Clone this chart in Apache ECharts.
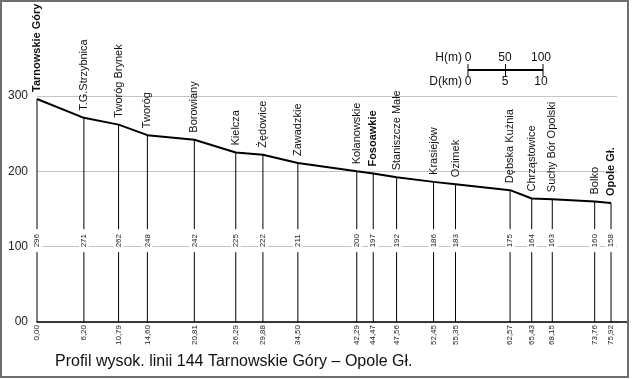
<!DOCTYPE html>
<html>
<head>
<meta charset="utf-8">
<script src="https://cdn.jsdelivr.net/npm/echarts@6/dist/echarts.min.js"></script>
<style>
html,body{margin:0;padding:0;background:#fff;}
#chart{width:632px;height:379px;}
</style>
</head>
<body>
<div id="chart"></div>
<script>
var stations = ['Tarnowskie Góry','T.G.Strzybnica','Tworóg Brynek','Tworóg','Borowiany','Kielcza','Żędowice','Zawadzkie','Kolanowskie','Fosoawkie','Staniszcze Małe','Krasiejów','Ozimek','Dębska Kuźnia','Chrząstowice','Suchy Bór Opolski','Bolko','Opole Gł.'];
var kmValues = [0.00,6.20,10.79,14.60,20.81,26.29,29.88,34.50,42.29,44.47,47.56,52.45,55.35,62.57,65.43,68.15,73.76,75.92];
var elevations = [296,271,262,248,242,225,222,211,200,197,192,186,183,175,164,163,160,158];
var boldStations = ['Tarnowskie Góry','Fosoawkie','Opole Gł.'];
var yTicks = [0,100,200,300];
var titleText = 'Profil wysok. linii 144 Tarnowskie Góry – Opole Gł.';

var FONT = 'Arial, "Liberation Sans", sans-serif';
var chart = echarts.init(document.getElementById('chart'), null, {renderer:'canvas'});

function fmtKm(v){ return v.toFixed(2).replace('.', ','); }

var profileData = kmValues.map(function(k,i){ return [k, elevations[i]]; });
var stationData = kmValues.map(function(k,i){ return [k, elevations[i], i]; });

var option = {
  animation:false,
  backgroundColor:'#fff',
  grid:{left:37, right:15, top:96, bottom:57, containLabel:false},
  xAxis:{type:'value', min:0, max:76.71, show:true,
    axisLine:{show:true, onZero:true, lineStyle:{color:'#000', width:1.5}},
    axisTick:{show:false}, axisLabel:{show:false}, splitLine:{show:false}},
  yAxis:{type:'value', min:0, max:300, interval:100,
    axisLine:{show:false}, axisTick:{show:false},
    axisLabel:{margin:9, color:'#222', fontSize:12, fontFamily:FONT,
      formatter:function(v){ return v===0 ? '00' : String(v); }},
    splitLine:{show:true, lineStyle:{color:'#c4c4c4', width:1}}},
  graphic:[
    {type:'rect', shape:{x:1, y:1, width:627, height:376}, style:{fill:'none', stroke:'#6e6e6e', lineWidth:2}, z:100},
    {type:'line', shape:{x1:617, y1:322, x2:627, y2:322}, style:{stroke:'#000', lineWidth:1.5}},
    {type:'text', x:55, y:362, style:{text:titleText, font:'16px '+FONT, fill:'#111', textAlign:'left', textVerticalAlign:'middle', align:'left', verticalAlign:'middle'}},
    {type:'text', x:462, y:58, style:{text:'H(m)', font:'12px '+FONT, fill:'#111', align:'right', verticalAlign:'middle', textAlign:'right', textVerticalAlign:'middle'}},
    {type:'text', x:468, y:58, style:{text:'0', font:'12px '+FONT, fill:'#111', align:'center', verticalAlign:'middle', textAlign:'center', textVerticalAlign:'middle'}},
    {type:'text', x:505, y:58, style:{text:'50', font:'12px '+FONT, fill:'#111', align:'center', verticalAlign:'middle', textAlign:'center', textVerticalAlign:'middle'}},
    {type:'text', x:541, y:58, style:{text:'100', font:'12px '+FONT, fill:'#111', align:'center', verticalAlign:'middle', textAlign:'center', textVerticalAlign:'middle'}},
    {type:'text', x:462, y:82, style:{text:'D(km)', font:'12px '+FONT, fill:'#111', align:'right', verticalAlign:'middle', textAlign:'right', textVerticalAlign:'middle'}},
    {type:'text', x:468, y:82, style:{text:'0', font:'12px '+FONT, fill:'#111', align:'center', verticalAlign:'middle', textAlign:'center', textVerticalAlign:'middle'}},
    {type:'text', x:505, y:82, style:{text:'5', font:'12px '+FONT, fill:'#111', align:'center', verticalAlign:'middle', textAlign:'center', textVerticalAlign:'middle'}},
    {type:'text', x:541, y:82, style:{text:'10', font:'12px '+FONT, fill:'#111', align:'center', verticalAlign:'middle', textAlign:'center', textVerticalAlign:'middle'}},
    {type:'line', shape:{x1:468, y1:70, x2:543, y2:70}, style:{stroke:'#000', lineWidth:2}},
    {type:'line', shape:{x1:468, y1:64, x2:468, y2:76}, style:{stroke:'#000', lineWidth:1}},
    {type:'line', shape:{x1:505.5, y1:64, x2:505.5, y2:76}, style:{stroke:'#000', lineWidth:1}},
    {type:'line', shape:{x1:543, y1:64, x2:543, y2:76}, style:{stroke:'#000', lineWidth:1}}
  ],
  series:[
    {type:'custom', z:3, clip:false, data:stationData,
      renderItem:function(params, api){
        var k = api.value(0), h = api.value(1), idx = api.value(2);
        var top = api.coord([k, h]);
        var base = api.coord([k, 0]);
        var x = top[0];
        var labY = api.coord([k, 100])[1] - 6;
        var name = stations[idx];
        var isBold = boldStations.indexOf(name) >= 0;
        return {type:'group', children:[
          {type:'line', shape:{x1:x, y1:top[1], x2:x, y2:base[1]}, style:{stroke:'#000', lineWidth:1}},
          {type:'rect', shape:{x:x-5, y:labY-11.5, width:10, height:23}, style:{fill:'#fff'}},
          {type:'text', x:x, y:labY, rotation:Math.PI/2,
            style:{text:String(h), font:'8px '+FONT, fill:'#222', align:'center', verticalAlign:'middle', textAlign:'center', textVerticalAlign:'middle'}},
          {type:'text', x:x, y:base[1]+3, rotation:Math.PI/2,
            style:{text:fmtKm(k), font:'8px '+FONT, fill:'#222', align:'right', verticalAlign:'middle', textAlign:'right', textVerticalAlign:'middle'}},
          {type:'text', x:x, y:top[1]-7, rotation:Math.PI/2,
            style:{text:name, font:(isBold?'bold ':'')+'11px '+FONT, fill:'#111', align:'left', verticalAlign:'middle', textAlign:'left', textVerticalAlign:'middle'}}
        ]};
      }
    },
    {type:'line', z:4, data:profileData, showSymbol:false, symbol:'none',
      lineStyle:{color:'#000', width:2}}
  ]
};
chart.setOption(option);
</script>
</body>
</html>
